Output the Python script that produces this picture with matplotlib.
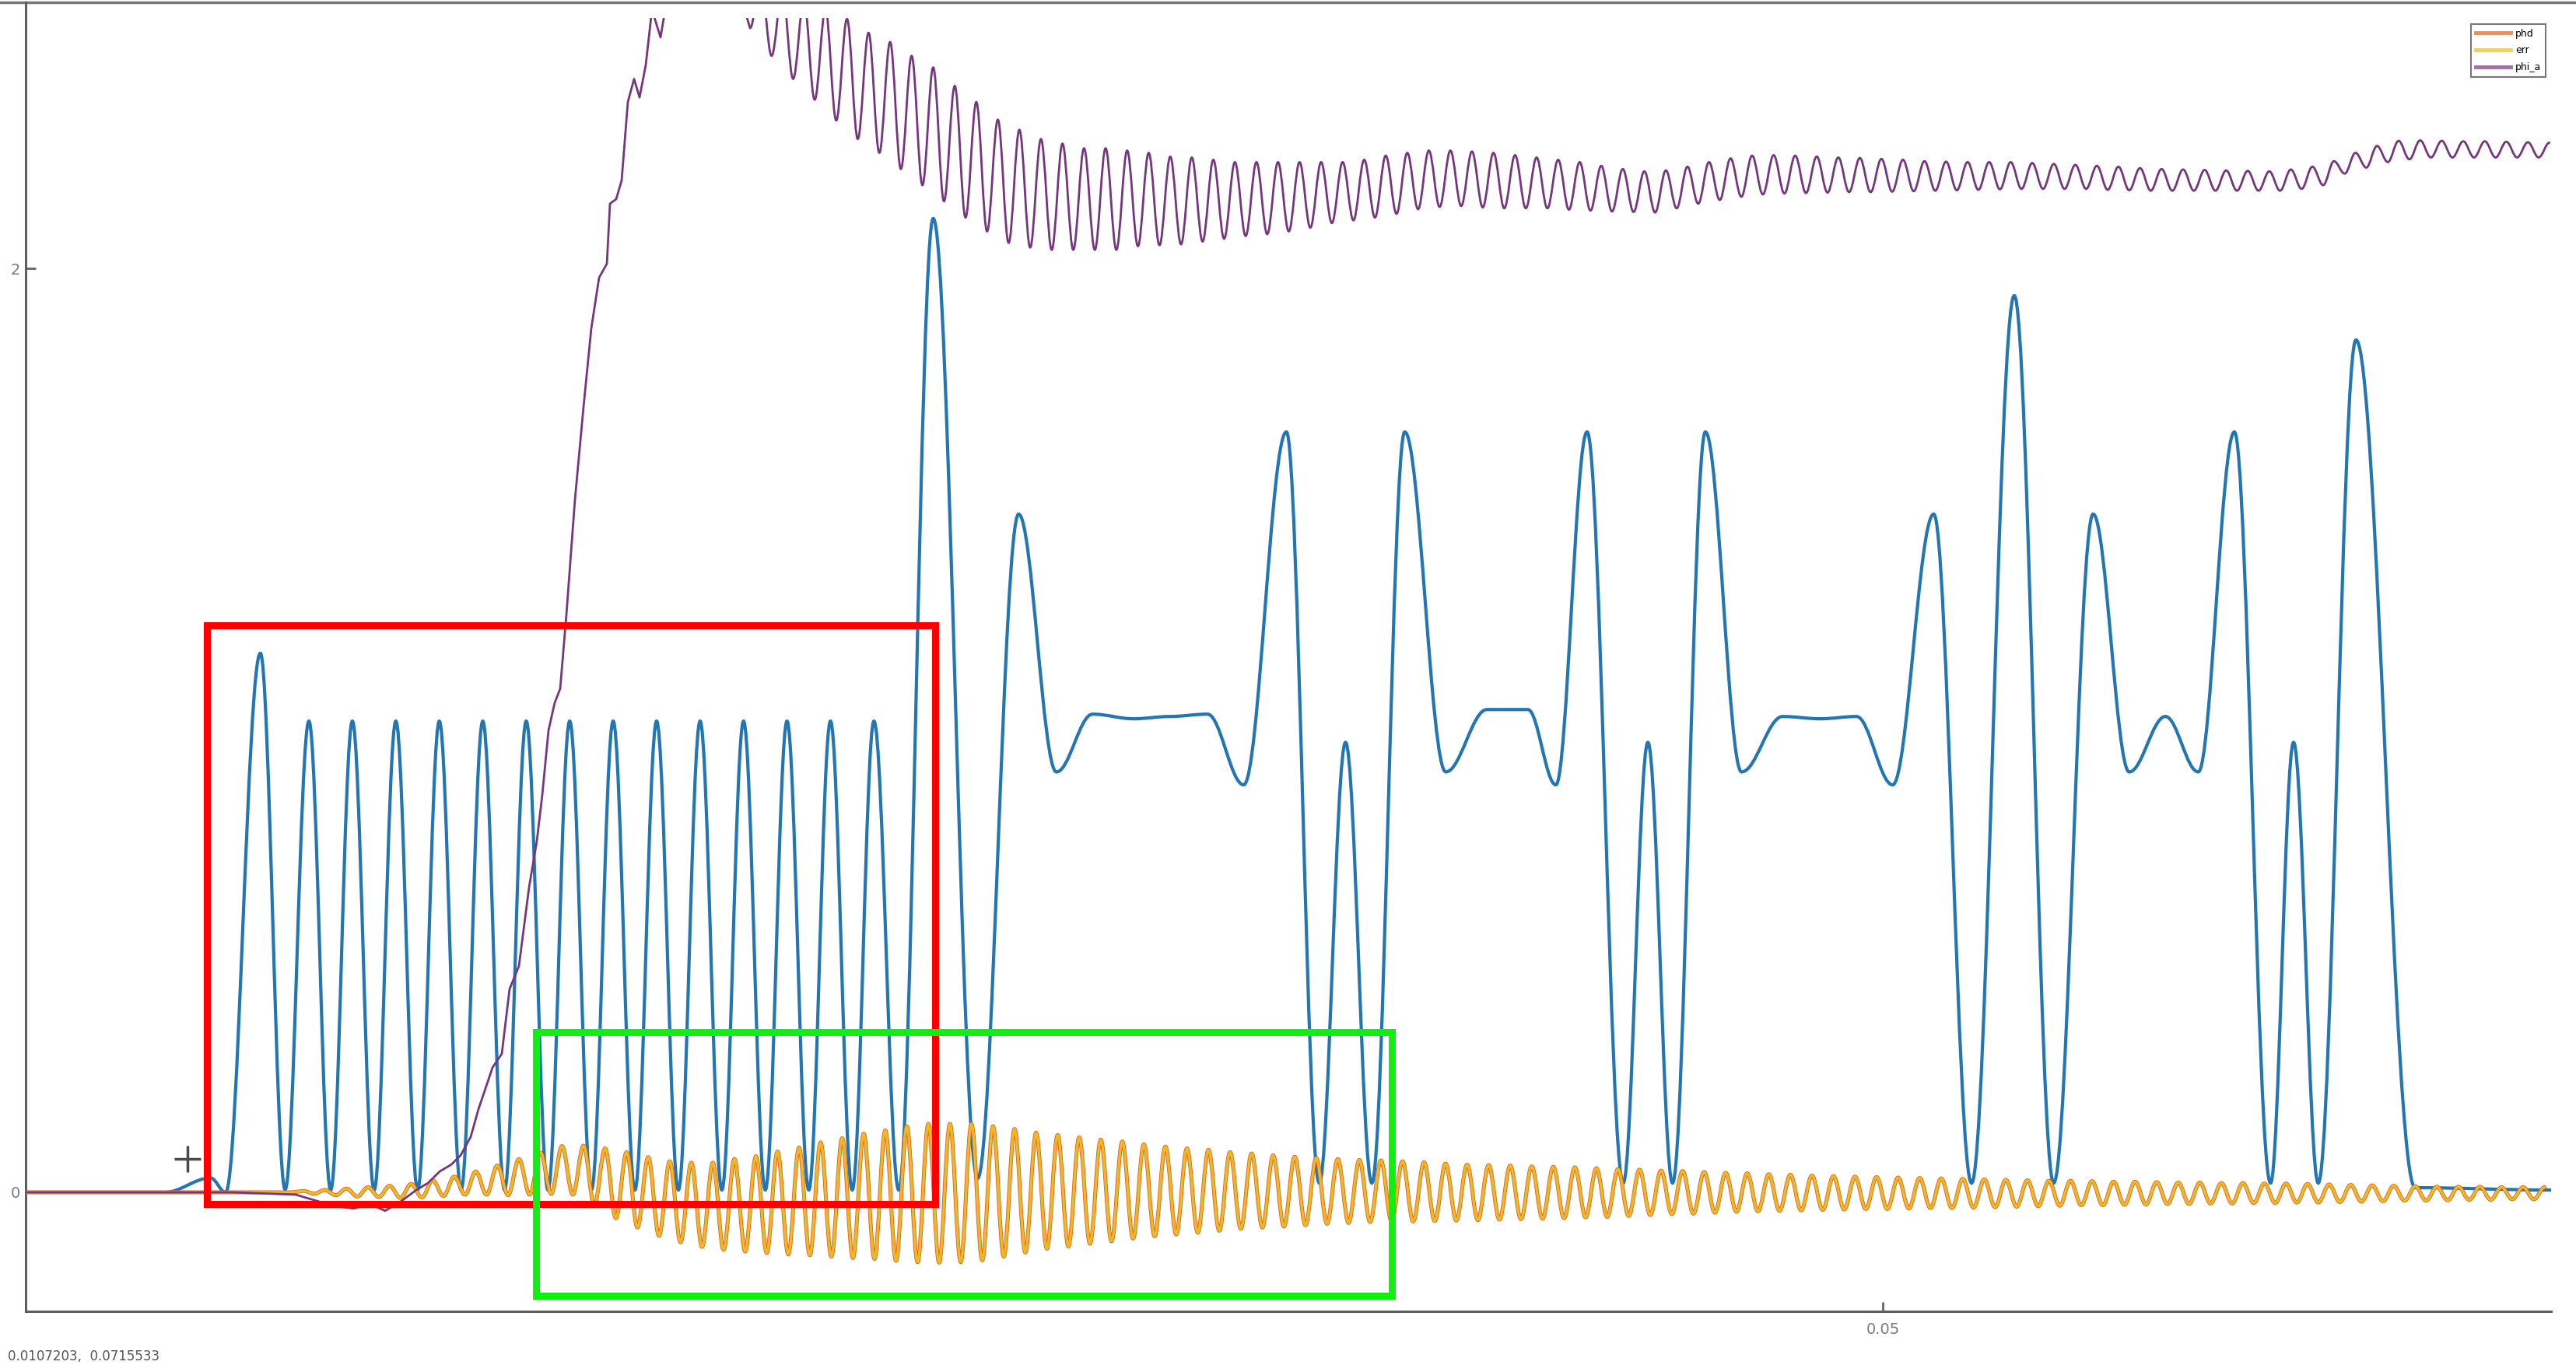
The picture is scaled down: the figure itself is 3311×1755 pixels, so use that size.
import matplotlib
matplotlib.use("Agg")
import matplotlib.pyplot as plt
from matplotlib.path import Path
from matplotlib.patches import PathPatch, Rectangle
from matplotlib.lines import Line2D
import numpy as np

# ---------------- data ----------------
# blue signal: knot points (time, value) at its extrema
sig_t = [0.006971, 0.010190, 0.011257, 0.011604, 0.012409, 0.012983,
         0.013534, 0.014038, 0.014541, 0.015045, 0.015548, 0.016052, 0.016555, 0.017059,
         0.017562, 0.018066, 0.018569, 0.019073, 0.019576, 0.020080, 0.020583, 0.021087,
         0.021590, 0.022094, 0.022597, 0.023101, 0.023604, 0.024108, 0.024611, 0.025115,
         0.025618, 0.026122, 0.026625, 0.027199,
         0.027998, 0.029026, 0.029977, 0.030853, 0.031690, 0.032642, 0.033479, 0.034355,
         0.035192, 0.036182, 0.036943, 0.037552, 0.038161, 0.038923, 0.039874, 0.040826,
         0.041778, 0.042425, 0.043148, 0.043986, 0.044557, 0.045128, 0.045889, 0.046727,
         0.047678, 0.048554, 0.049391, 0.050229, 0.051180, 0.052056, 0.053046, 0.053959,
         0.054873, 0.055710, 0.056548, 0.057309, 0.058146, 0.058984, 0.059517, 0.060088,
         0.060963, 0.062333, 0.065484]
sig_v = [0.0, 0.0, 0.031, 0.0, 1.167, 0.006,
         1.02, 0.005, 1.02, 0.005, 1.02, 0.005, 1.02, 0.005,
         1.02, 0.005, 1.02, 0.005, 1.02, 0.005, 1.02, 0.005,
         1.02, 0.005, 1.02, 0.005, 1.02, 0.005, 1.02, 0.005,
         1.02, 0.005, 1.02, 0.005,
         2.108, 0.03, 1.468, 0.91, 1.035, 1.025, 1.03, 1.035,
         0.882, 1.646, 0.02, 0.974, 0.02, 1.646, 0.91, 1.045,
         1.045, 0.882, 1.646, 0.02, 0.974, 0.02, 1.646, 0.91,
         1.03, 1.025, 1.03, 0.882, 1.468, 0.02, 1.941, 0.02,
         1.468, 0.91, 1.03, 0.91, 1.646, 0.02, 0.974, 0.02,
         1.845, 0.01, 0.005]

# phd / err oscillation: peak and trough values, first peak time, half period
osc_t0 = 0.013406
osc_step = 0.00024965
osc_peaks = [0.003, 0.005, 0.008, 0.011, 0.014, 0.018, 0.026, 0.034, 0.045, 0.058,
             0.072, 0.086, 0.100, 0.101, 0.095, 0.087, 0.076, 0.067, 0.064, 0.064,
             0.072, 0.078, 0.088, 0.097, 0.108, 0.117, 0.127, 0.134, 0.143, 0.148,
             0.148, 0.148, 0.143, 0.137, 0.129, 0.124, 0.119, 0.114, 0.110, 0.104,
             0.099, 0.095, 0.092, 0.087, 0.084, 0.080, 0.077, 0.074, 0.072, 0.070,
             0.069, 0.067, 0.065, 0.062, 0.060, 0.059, 0.058, 0.056, 0.055, 0.054,
             0.052, 0.050, 0.049, 0.047, 0.046, 0.044, 0.042, 0.041, 0.039, 0.038,
             0.036, 0.035, 0.034, 0.033, 0.032, 0.031, 0.030, 0.029, 0.028, 0.027,
             0.026, 0.025, 0.025, 0.024, 0.023, 0.023, 0.022, 0.021, 0.021, 0.020,
             0.020, 0.019, 0.019, 0.018, 0.017, 0.016, 0.015, 0.014, 0.013, 0.012,
             0.012, 0.012, 0.011, 0.011, 0.011]
osc_troughs = [-0.003, -0.006, -0.009, -0.010, -0.012, -0.011, -0.008, -0.005, -0.005, -0.006,
               -0.005, -0.003, -0.005, -0.028, -0.056, -0.076, -0.094, -0.108, -0.118, -0.124,
               -0.128, -0.131, -0.134, -0.136, -0.139, -0.142, -0.144, -0.148, -0.151, -0.152,
               -0.151, -0.147, -0.139, -0.130, -0.122, -0.117, -0.111, -0.106, -0.100, -0.095,
               -0.091, -0.087, -0.083, -0.079, -0.076, -0.074, -0.071, -0.068, -0.066, -0.064,
               -0.064, -0.063, -0.062, -0.061, -0.060, -0.059, -0.058, -0.057, -0.056, -0.054,
               -0.053, -0.051, -0.049, -0.047, -0.046, -0.044, -0.042, -0.041, -0.040, -0.039,
               -0.038, -0.037, -0.036, -0.036, -0.035, -0.034, -0.034, -0.033, -0.032, -0.031,
               -0.030, -0.029, -0.028, -0.028, -0.027, -0.026, -0.025, -0.025, -0.024, -0.024,
               -0.023, -0.023, -0.022, -0.022, -0.021, -0.020, -0.019, -0.018, -0.018, -0.017,
               -0.016, -0.016, -0.015, -0.015]

# phi: rising part (polyline) then oscillation (trough first)
phi_rise_t = [0.006971, 0.011784, 0.013226, 0.014127, 0.014578, 0.014939, 0.015299, 0.015660,
              0.016020, 0.016291, 0.016561, 0.016831, 0.017048, 0.017282, 0.017462, 0.017643,
              0.017787, 0.018003, 0.018183, 0.018400, 0.018634, 0.018814, 0.018940, 0.019085,
              0.019229, 0.019355, 0.019499, 0.019698, 0.019896, 0.020076, 0.020257, 0.020437,
              0.020509, 0.020653, 0.020779, 0.020923, 0.021067, 0.021194, 0.021338, 0.021482,
              0.021680, 0.021825, 0.022239, 0.022960, 0.023501]
phi_rise_v = [0.0, 0.0, -0.005, -0.03, -0.035, -0.025, -0.04, -0.02,
              0.005, 0.02, 0.045, 0.06, 0.08, 0.12, 0.18, 0.23,
              0.27, 0.30, 0.44, 0.49, 0.66, 0.76, 0.86, 1.00,
              1.06, 1.09, 1.25, 1.50, 1.70, 1.87, 1.98, 2.01,
              2.14, 2.15, 2.19, 2.36, 2.41, 2.37, 2.44, 2.56,
              2.50, 2.58, 2.68, 2.70, 2.60]
phi_t0 = 0.023754
phi_troughs = [2.52, 2.46, 2.41, 2.365, 2.32, 2.28, 2.25, 2.215, 2.18, 2.145,
               2.11, 2.08, 2.055, 2.045, 2.04, 2.04, 2.04, 2.04, 2.048, 2.05,
               2.052, 2.058, 2.064, 2.07, 2.074, 2.08, 2.088, 2.098, 2.104, 2.11,
               2.118, 2.128, 2.133, 2.135, 2.132, 2.13, 2.13, 2.13, 2.127, 2.125,
               2.123, 2.122, 2.121, 2.13, 2.14, 2.148, 2.155, 2.16, 2.162, 2.163,
               2.164, 2.165, 2.165, 2.166, 2.167, 2.168, 2.169, 2.17, 2.171, 2.172,
               2.172, 2.172, 2.172, 2.17, 2.169, 2.168, 2.168, 2.168, 2.168, 2.168,
               2.168, 2.168, 2.172, 2.18, 2.205, 2.218, 2.23, 2.236, 2.24, 2.24,
               2.24, 2.24, 2.24, 2.24]
phi_peaks = [2.62, 2.60, 2.58, 2.56, 2.54, 2.51, 2.49, 2.46, 2.435, 2.395,
             2.36, 2.322, 2.30, 2.28, 2.27, 2.26, 2.26, 2.255, 2.25, 2.242,
             2.24, 2.235, 2.23, 2.23, 2.23, 2.23, 2.23, 2.23, 2.235, 2.244,
             2.25, 2.255, 2.255, 2.253, 2.25, 2.245, 2.24, 2.235, 2.23, 2.222,
             2.215, 2.21, 2.212, 2.22, 2.23, 2.238, 2.244, 2.245, 2.244, 2.242,
             2.24, 2.239, 2.237, 2.235, 2.232, 2.231, 2.23, 2.23, 2.23, 2.228,
             2.226, 2.224, 2.222, 2.22, 2.217, 2.215, 2.214, 2.213, 2.212, 2.211,
             2.21, 2.214, 2.22, 2.232, 2.25, 2.265, 2.276, 2.277, 2.276, 2.275,
             2.275, 2.274, 2.273, 2.272]

legend_labels = ["phd", "err", "phi_a"]
xticks = [0.05]
xticklabels = ["0.05"]
yticks = [0, 2]
yticklabels = ["0", "2"]
cursor_x, cursor_y = 0.0107203, 0.0715533

# ---------------- styling ----------------
C_SIG = "#2176b3"
C_PHD = "#d9641f"
C_ERR = "#f0b828"
C_PHI = "#76357f"
K = 0.3634  # Bezier handle for smooth extrema-to-extrema strokes

W, H = 3311, 1755
fig = plt.figure(figsize=(W / 100, H / 100), dpi=100)
fig.patch.set_facecolor("white")
ax = fig.add_axes([33 / W, 1 - 1686 / H, (3279 - 33) / W, (1686 - 23) / H])
ax.set_xlim(0.006971, 0.065484)
ax.set_ylim(-0.2576, 2.5421)


def smooth_stroke(t, v, color, lw, z, prefix=None):
    verts = []
    codes = []
    if prefix is not None:
        pt, pv = prefix
        verts.append((pt[0], pv[0])); codes.append(Path.MOVETO)
        for a, b in zip(pt[1:], pv[1:]):
            verts.append((a, b)); codes.append(Path.LINETO)
        verts.append((t[0], v[0])); codes.append(Path.LINETO)
    else:
        verts.append((t[0], v[0])); codes.append(Path.MOVETO)
    for i in range(1, len(t)):
        dx = t[i] - t[i - 1]
        verts += [(t[i - 1] + K * dx, v[i - 1]), (t[i] - K * dx, v[i]), (t[i], v[i])]
        codes += [Path.CURVE4] * 3
    patch = PathPatch(Path(verts, codes), fill=False, edgecolor=color, lw=lw,
                      zorder=z, joinstyle="round", capstyle="round")
    ax.add_patch(patch)


# blue signal
smooth_stroke(sig_t, sig_v, C_SIG, 3.0, 2)

# phd / err oscillation (interleave peaks and troughs)
osc_v = []
for i in range(len(osc_peaks)):
    osc_v.append(osc_peaks[i])
    if i < len(osc_troughs):
        osc_v.append(osc_troughs[i])
osc_t = list(osc_t0 + np.arange(len(osc_v)) * osc_step)
osc_pre = ([0.006971, osc_t0 - osc_step], [0.0, 0.0])
smooth_stroke(osc_t, osc_v, C_PHD, 3.6, 3, prefix=osc_pre)
smooth_stroke(osc_t, osc_v, C_ERR, 2.4, 4, prefix=osc_pre)

# phi
phi_v = []
for i in range(len(phi_troughs)):
    phi_v.append(phi_troughs[i])
    phi_v.append(phi_peaks[i])
phi_t = list(phi_t0 + np.arange(len(phi_v)) * osc_step)
smooth_stroke(phi_t, phi_v, C_PHI, 2.0, 5, prefix=(phi_rise_t, phi_rise_v))

# axes styling
for s in ("top", "right"):
    ax.spines[s].set_visible(False)
for s in ("left", "bottom"):
    ax.spines[s].set_color("#5e5e5e")
    ax.spines[s].set_linewidth(2.2)
ax.set_xticks(xticks)
ax.set_xticklabels(xticklabels)
ax.set_yticks(yticks)
ax.set_yticklabels(yticklabels)
ax.tick_params(axis="both", direction="in", length=9, width=2, color="#666666",
               labelcolor="#7a7a7a", labelsize=14)
ax.tick_params(axis="x", pad=10)
ax.tick_params(axis="y", pad=5)

# legend
handles = [Line2D([], [], color=C_PHD, lw=3.5, alpha=0.7),
           Line2D([], [], color=C_ERR, lw=3.5, alpha=0.7),
           Line2D([], [], color=C_PHI, lw=3.5, alpha=0.7)]
leg = ax.legend(handles, legend_labels, loc="upper right",
                bbox_to_anchor=(3272 / W, 1 - 31 / H), bbox_transform=fig.transFigure,
                fancybox=False, frameon=True, edgecolor="#555555", fontsize=9,
                handlelength=3.6, handletextpad=0.5, labelspacing=0.7,
                borderpad=0.45, borderaxespad=0)
leg.get_frame().set_linewidth(1.5)
leg.set_zorder(20)

# cursor marker and readout
ax.plot([cursor_x], [cursor_y], marker="+", ms=24, mew=2.5, color="#4a4a4a",
        zorder=6, clip_on=False)
fig.text(10 / W, 1 - 1744 / H, f"{cursor_x},  {cursor_y}", fontsize=12,
         color="#555555", ha="left", va="center")

# window border lines
fig.add_artist(Line2D([0, 1], [1 - 3 / H, 1 - 3 / H], transform=fig.transFigure,
                      color="#777777", lw=2.5))
fig.add_artist(Line2D([33 / W, 33 / W], [1 - 23 / H, 1 - 3 / H], transform=fig.transFigure,
                      color="#5e5e5e", lw=2.2))

# annotation boxes (red and green)
def box(x0, y0, x1, y1, color):
    fig.add_artist(Rectangle((x0 / W, 1 - y1 / H), (x1 - x0) / W, (y1 - y0) / H,
                             transform=fig.transFigure, fill=False, edgecolor=color,
                             lw=6.5, zorder=30))

box(266, 804, 1202, 1548, "#ff0000")
box(689, 1327, 1789, 1666, "#11ee11")

fig.savefig("out.png", dpi=100, facecolor="white")
